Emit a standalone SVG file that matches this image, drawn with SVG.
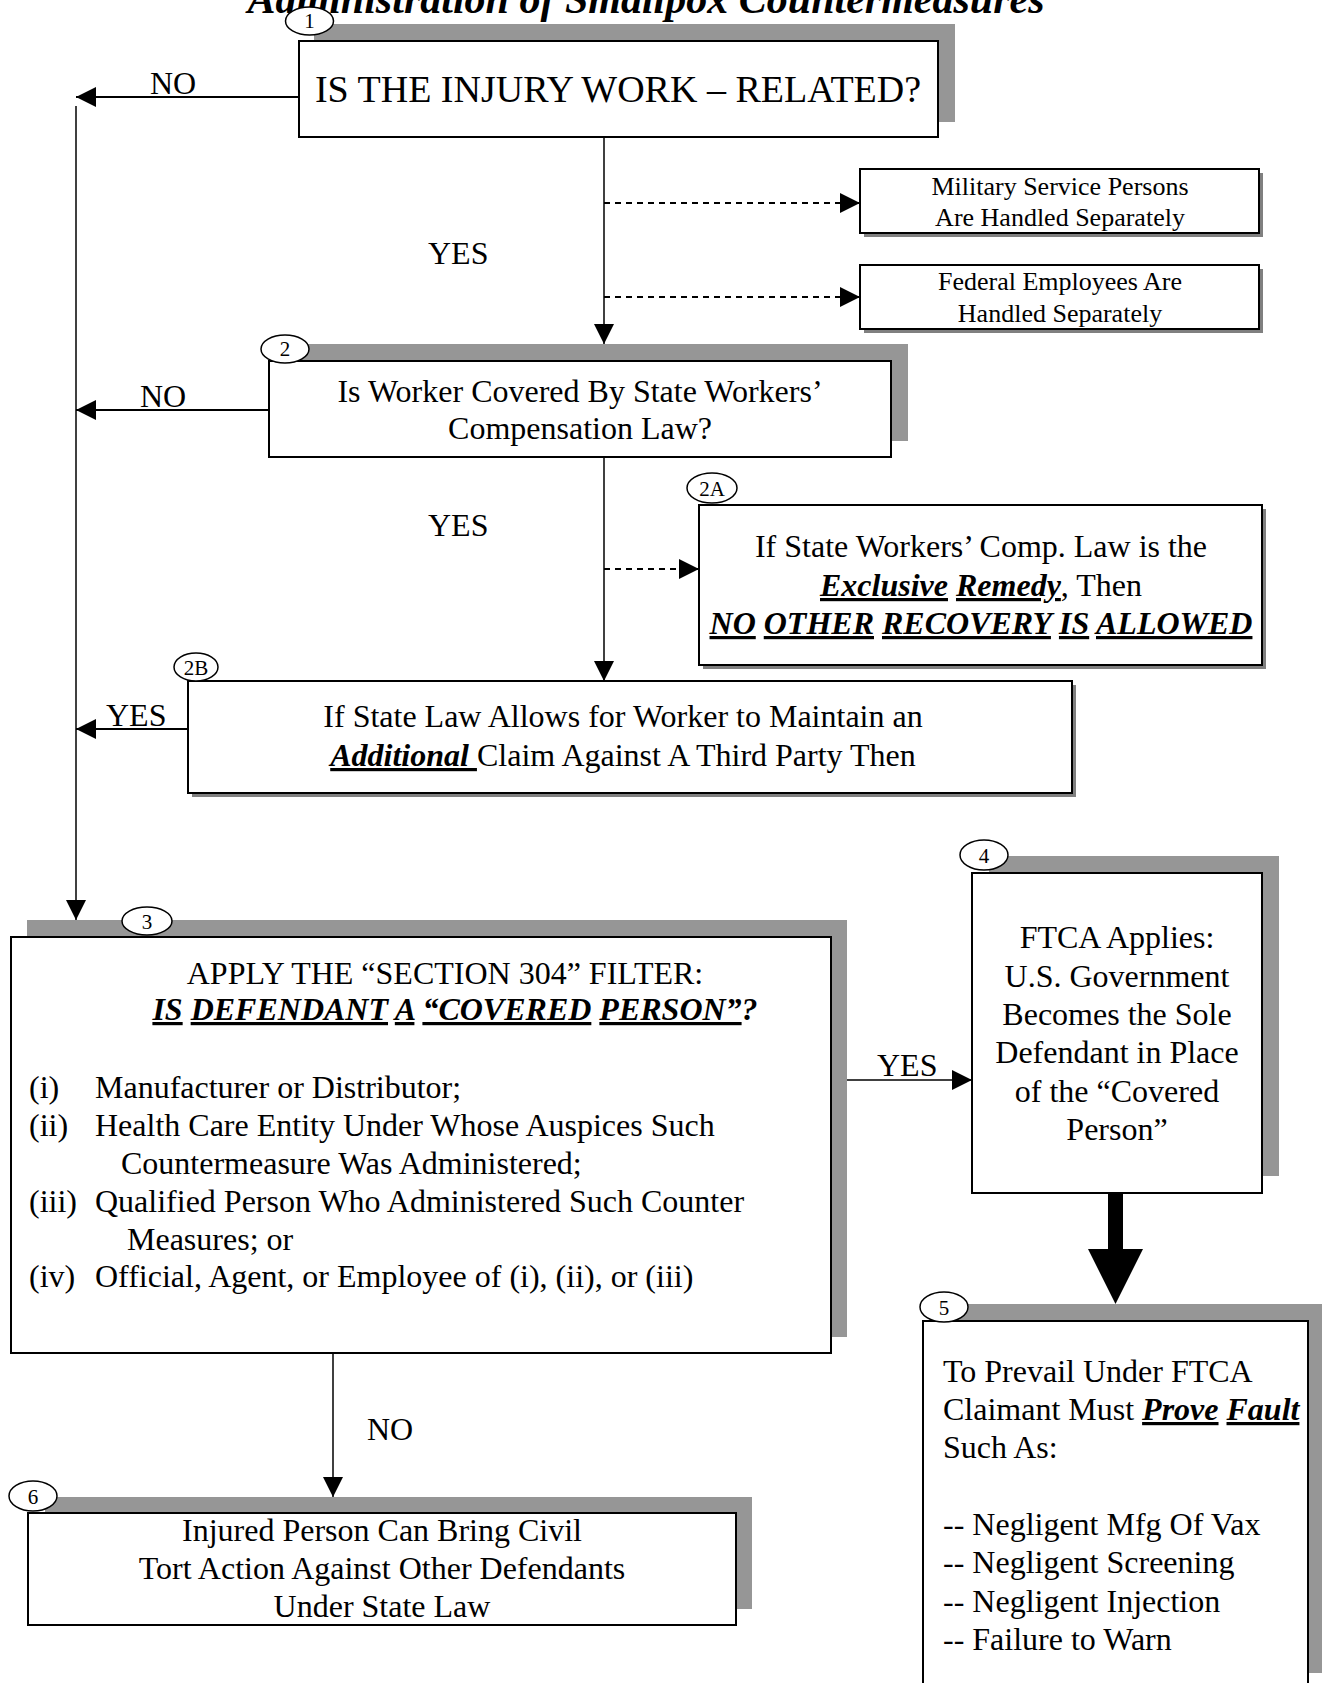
<svg xmlns="http://www.w3.org/2000/svg" width="1322" height="1683" viewBox="0 0 1322 1683">
<style>
text{font-family:"Liberation Serif","Times New Roman",serif;fill:#000;font-size:32px}
.c{text-anchor:middle}
.bi{font-weight:bold;font-style:italic}
.u{text-decoration:underline}
.box{fill:#fff;stroke:#000;stroke-width:2}
.sh{fill:#969696}
.sh2{fill:#808080}
.lb{fill:#fff;stroke:#000;stroke-width:1.5}
.lbt{font-size:21px;text-anchor:middle}
.sm{font-size:26px}
.ln{fill:none;stroke:#000;stroke-width:1.5}
.lt{fill:none;stroke:#000;stroke-width:2}
.ds{fill:none;stroke:#000;stroke-width:2;stroke-dasharray:6 5}
</style>
<defs>
<marker id="ah" markerUnits="userSpaceOnUse" markerWidth="20" markerHeight="20" viewBox="0 0 20 20" refX="20" refY="10" orient="auto"><path d="M0,0 L20,10 L0,20 z" fill="#000"/></marker>
</defs>
<rect width="1322" height="1683" fill="#fff"/>
<text id="title" x="646" y="13" class="c bi" style="font-size:42px">Administration of Smallpox Countermeasures</text>

<g id="connectors">
<path class="lt" d="M299,97 H76" marker-end="url(#ah)"/>
<path class="ln" d="M76,106 V920" marker-end="url(#ah)"/>
<path class="ln" d="M604,137 V344" marker-end="url(#ah)"/>
<path class="ds" d="M604,203 H860" marker-end="url(#ah)"/>
<path class="ds" d="M604,297 H860" marker-end="url(#ah)"/>
<path class="lt" d="M269,410 H76" marker-end="url(#ah)"/>
<path class="ln" d="M604,457 V681" marker-end="url(#ah)"/>
<path class="ds" d="M604,569 H699" marker-end="url(#ah)"/>
<path class="lt" d="M188,729 H76" marker-end="url(#ah)"/>
<path class="ln" d="M831,1080 H972" marker-end="url(#ah)"/>
<path class="ln" d="M333,1353 V1497" marker-end="url(#ah)"/>
<path d="M1108,1193 H1123 V1249 H1143 L1115.5,1304 L1088,1249 H1108 Z" fill="#000"/>
<text x="150" y="94">NO</text>
<text x="428" y="264">YES</text>
<text x="140" y="407">NO</text>
<text x="428" y="536">YES</text>
<text x="106" y="726">YES</text>
<text x="877" y="1076">YES</text>
<text x="367" y="1440">NO</text>
</g>

<g id="n1">
<rect class="sh" x="314" y="24" width="641" height="98"/>
<rect class="box" x="299" y="41" width="639" height="96"/>
<ellipse class="lb" cx="309.5" cy="21" rx="24" ry="14"/>
<text class="lbt" x="309.5" y="28">1</text>
<text class="c" x="618" y="102" style="font-size:38px">IS THE INJURY WORK – RELATED?</text>
</g>

<g id="military">
<rect class="sh2" x="864" y="173" width="399" height="64"/>
<rect class="box" x="860" y="169" width="399" height="64"/>
<text class="c sm" x="1060" y="195">Military Service Persons</text>
<text class="c sm" x="1060" y="226">Are Handled Separately</text>
</g>

<g id="federal">
<rect class="sh2" x="864" y="269" width="399" height="64"/>
<rect class="box" x="860" y="265" width="399" height="64"/>
<text class="c sm" x="1060" y="290">Federal Employees Are</text>
<text class="c sm" x="1060" y="322">Handled Separately</text>
</g>

<g id="n2">
<rect class="sh" x="286" y="344" width="622" height="97"/>
<rect class="box" x="269" y="361" width="622" height="96"/>
<ellipse class="lb" cx="285" cy="349" rx="24" ry="14"/>
<text class="lbt" x="285" y="356">2</text>
<text class="c" x="580" y="402">Is Worker Covered By State Workers’</text>
<text class="c" x="580" y="439">Compensation Law?</text>
</g>

<g id="n2a">
<rect class="sh2" x="703" y="509" width="563" height="160"/>
<rect class="box" x="699" y="505" width="563" height="160"/>
<ellipse class="lb" cx="712" cy="488" rx="25" ry="15"/>
<text class="lbt" x="712" y="496">2A</text>
<text class="c" x="981" y="557">If State Workers’ Comp. Law is the</text>
<text class="c" x="981" y="596"><tspan class="bi u">Exclusive</tspan> <tspan class="bi u">Remedy</tspan>, Then</text>
<text class="c bi" x="981" y="634"><tspan class="u">NO</tspan> <tspan class="u">OTHER</tspan> <tspan class="u">RECOVERY</tspan> <tspan class="u">IS</tspan> <tspan class="u">ALLOWED</tspan></text>
</g>

<g id="n2b">
<rect class="sh2" x="192" y="685" width="884" height="112"/>
<rect class="box" x="188" y="681" width="884" height="112"/>
<ellipse class="lb" cx="196" cy="667" rx="22" ry="14"/>
<text class="lbt" x="196" y="675">2B</text>
<text class="c" x="623" y="727">If State Law Allows for Worker to Maintain an</text>
<text class="c" x="623" y="766"><tspan class="bi u">Additional </tspan>Claim Against A Third Party Then</text>
</g>

<g id="n3">
<rect class="sh" x="27" y="920" width="820" height="417"/>
<rect class="box" x="11" y="937" width="820" height="416"/>
<ellipse class="lb" cx="147" cy="921" rx="25" ry="14"/>
<text class="lbt" x="147" y="929">3</text>
<text class="c" x="445" y="984">APPLY THE “SECTION 304” FILTER:</text>
<text class="c bi" x="455" y="1020"><tspan class="u">IS</tspan> <tspan class="u">DEFENDANT</tspan> <tspan class="u">A</tspan> <tspan class="u">“COVERED</tspan> <tspan class="u">PERSON”</tspan>?</text>
<text x="29" y="1098">(i)</text>
<text x="95" y="1098">Manufacturer or Distributor;</text>
<text x="29" y="1136">(ii)</text>
<text x="95" y="1136">Health Care Entity Under Whose Auspices Such</text>
<text x="121" y="1174">Countermeasure Was Administered;</text>
<text x="29" y="1212">(iii)</text>
<text x="95" y="1212">Qualified Person Who Administered Such Counter</text>
<text x="127" y="1250">Measures; or</text>
<text x="29" y="1287">(iv)</text>
<text x="95" y="1287">Official, Agent, or Employee of (i), (ii), or (iii)</text>
</g>

<g id="n4">
<rect class="sh" x="989" y="856" width="290" height="320"/>
<rect class="box" x="972" y="873" width="290" height="320"/>
<ellipse class="lb" cx="984" cy="855" rx="24" ry="15"/>
<text class="lbt" x="984" y="863">4</text>
<text class="c" x="1117" y="948">FTCA Applies:</text>
<text class="c" x="1117" y="987">U.S. Government</text>
<text class="c" x="1117" y="1025">Becomes the Sole</text>
<text class="c" x="1117" y="1063">Defendant in Place</text>
<text class="c" x="1117" y="1102">of the “Covered</text>
<text class="c" x="1117" y="1140">Person”</text>
</g>

<g id="n5">
<rect class="sh" x="940" y="1304" width="385" height="369"/>
<rect class="box" x="923" y="1321" width="385" height="369"/>
<ellipse class="lb" cx="944" cy="1307" rx="24" ry="15"/>
<text class="lbt" x="944" y="1315">5</text>
<text x="943" y="1382">To Prevail Under FTCA</text>
<text x="943" y="1420">Claimant Must <tspan class="bi u">Prove</tspan> <tspan class="bi u">Fault</tspan></text>
<text x="943" y="1458">Such As:</text>
<text x="943" y="1535">-- Negligent Mfg Of Vax</text>
<text x="943" y="1573">-- Negligent Screening</text>
<text x="943" y="1612">-- Negligent Injection</text>
<text x="943" y="1650">-- Failure to Warn</text>
</g>

<g id="n6">
<rect class="sh" x="45" y="1497" width="707" height="112"/>
<rect class="box" x="28" y="1513" width="708" height="112"/>
<ellipse class="lb" cx="33" cy="1496" rx="24" ry="15"/>
<text class="lbt" x="33" y="1504">6</text>
<text class="c" x="382" y="1541">Injured Person Can Bring Civil</text>
<text class="c" x="382" y="1579">Tort Action Against Other Defendants</text>
<text class="c" x="382" y="1617">Under State Law</text>
</g>
</svg>
